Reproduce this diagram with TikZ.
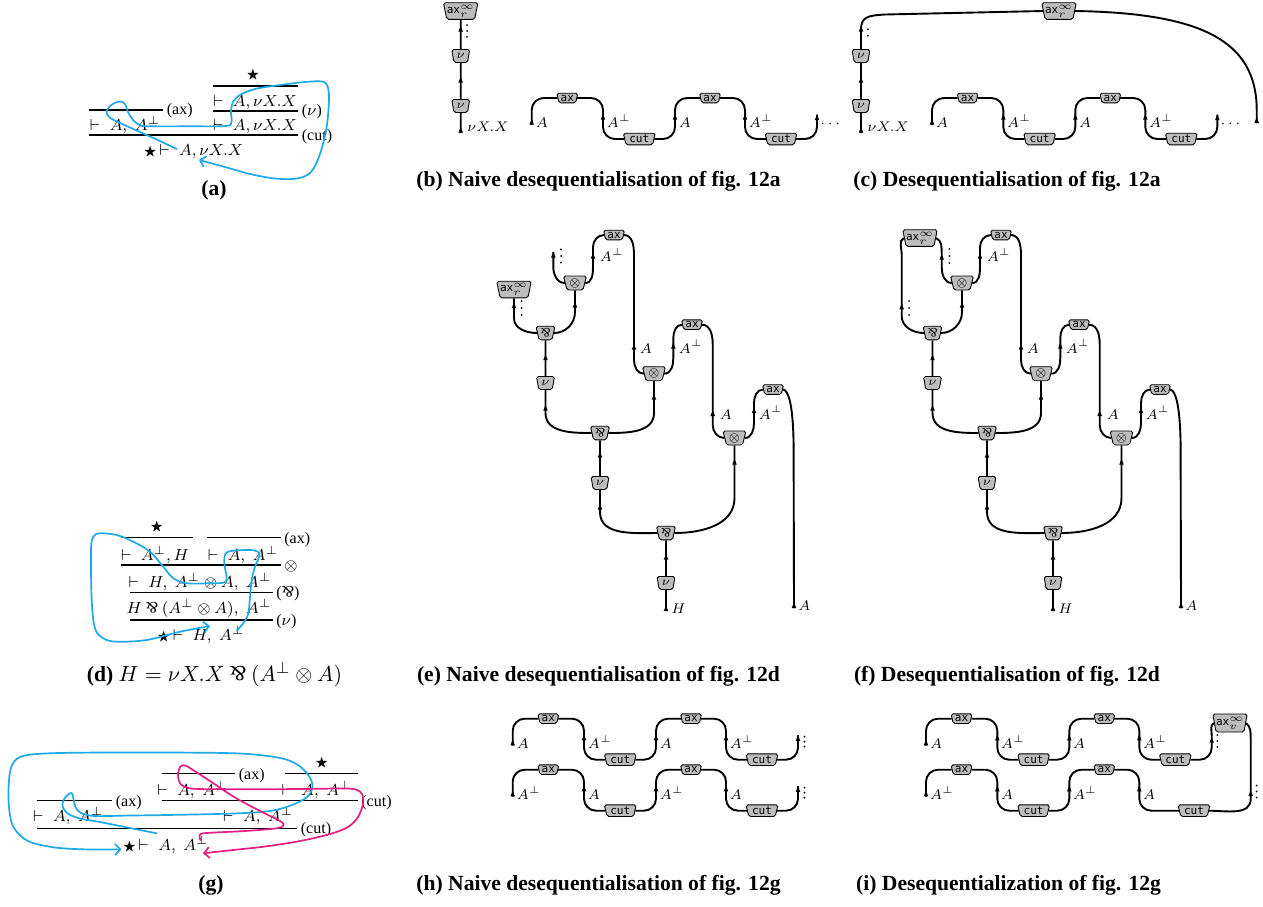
\documentclass[tikz,border=0pt]{standalone}
\usepackage{fontspec}
\usepackage{amsmath,amssymb}
\usepackage{graphicx}
\setmainfont{Liberation Serif}
\newfontfamily\gatefam{DejaVu Sans Mono}
\usetikzlibrary{shapes.geometric,arrows.meta}
\definecolor{gatefill}{gray}{0.74}
\definecolor{tracecyan}{RGB}{30,170,230}
\definecolor{tracepink}{RGB}{228,30,130}
\newcommand\parrsym{\mathbin{\rotatebox[origin=c]{180}{$\&$}}}
\newcommand\stR{{\fontsize{6.5}{6.5}\selectfont$\bigstar$}}
\newcommand\gatef{\fontsize{5.5}{6}\selectfont\gatefam}
\newcommand\gatem{\fontsize{6.5}{7}\selectfont}
\newcommand\pff{\fontsize{8}{9}\selectfont}
\newcommand\lblf{\fontsize{7.2}{8}\selectfont}
\newcommand\capf{\fontsize{10.8}{12}\selectfont\bfseries}
\newcommand\tipat[1]{\fill[shift={#1}] (-2.3,2.7) -- (0,-3) -- (2.3,2.7) -- cycle;}
\newcommand\dotsat[2]{\foreach \k in {-1,0,1}{\fill[shift={#1}] (0,\k*#2) circle (0.5pt);}}
\tikzset{
  gate/.style={trapezium, trapezium stretches=true, shape border rotate=180,
    trapezium left angle=75, trapezium right angle=75, draw=black, fill=gatefill,
    line width=0.45pt, rounded corners=0.9pt, inner sep=0pt},
  axg/.style={gate, minimum width=10.5pt, minimum height=4.8pt, font=\gatef},
  cutg/.style={gate, minimum width=16pt, minimum height=5.8pt, font=\gatef},
  nug/.style={gate, minimum width=9pt, minimum height=6.5pt, font=\gatem},
  otg/.style={gate, minimum width=11.5pt, minimum height=7pt, font=\gatem},
  parg/.style={gate, minimum width=9.5pt, minimum height=6.8pt, font=\gatem},
  axrg/.style={gate, minimum width=16pt, minimum height=8.3pt, font=\gatef},
  wire/.style={line width=0.95pt},
  rl/.style={line width=0.55pt},
  pf/.style={inner sep=0pt, anchor=base, font=\pff},
  pfl/.style={inner sep=0pt, anchor=base west, font=\pff},
  lbl/.style={inner sep=0pt, anchor=base west, font=\lblf},
  captxt/.style={inner sep=0pt, anchor=base, font=\capf},
  trace/.style={draw=#1, line width=0.85pt, line cap=round, line join=round,
    -{Straight Barb[length=2.6pt,width=5.5pt]}},
}
% chain of ax / cut gates (local coordinates of panel b)
\newcommand\chainbody[5]{%
  \node[axg] (ax1) at (567.3,98) {ax};
  \node[cutg] (cut1) at (639.3,139) {cut};
  \node[axg] (ax2) at (710,98) {ax};
  \node[cutg] (cut2) at (#5,139) {cut};
  \coordinate (s0) at (531.7,125);
  \draw[wire,rounded corners=6pt] (s0) |- (ax1.west);
  \draw[wire,rounded corners=6pt] (ax1.east) -| (603,139) -- (cut1.west);
  \draw[wire,rounded corners=6pt] (cut1.east) -| (675,98) -- (ax2.west);
  \draw[wire,rounded corners=6pt] (ax2.east) -| (745,139) -- (cut2.west);
  \tipat{(531.7,122)}\tipat{(603,117)}\tipat{(675,117)}\tipat{(745,117)}
  \node[lbl] at (535.5,127.5) {#1};
  \node[lbl] at (606.5,127.5) {#2};
  \node[lbl] at (678.5,127.5) {#3};
  \node[lbl] at (748.5,127.5) {#4};
}
% column of nu gates (local coordinates of panel b)
\newcommand\colbody{%
  \node[nug] (nu1) at (460.7,56) {$\nu$};
  \node[nug] (nu2) at (460.7,106) {$\nu$};
  \coordinate (vend) at (460.7,133);
  \draw[wire] (vend) -- (nu2);
  \draw[wire] (nu2) -- (nu1);
  \tipat{(460.7,130)}\tipat{(460.7,80)}\tipat{(460.7,29)}
  \node[lbl] at (467,131.5) {$\nu X.X$};
}
% common part of the nets e and f (local coordinates of panel e)
\newcommand\netbody{%
  \node[axg] (ax1) at (614,235) {ax};
  \node[otg] (otA) at (575,283) {$\otimes$};
  \node[parg] (parA) at (545.5,333) {$\parrsym$};
  \node[nug] (nuA) at (545.5,383) {$\nu$};
  \node[axg] (ax2) at (692,324.7) {ax};
  \node[otg] (otB) at (654,373.7) {$\otimes$};
  \node[parg] (parB) at (600,433) {$\parrsym$};
  \node[nug] (nuB) at (600,483) {$\nu$};
  \node[axg] (ax3) at (773,389.5) {ax};
  \node[otg] (otC) at (734.5,438) {$\otimes$};
  \node[parg] (parC) at (666,533) {$\parrsym$};
  \node[nug] (nuC) at (666,583) {$\nu$};
  \coordinate (Hend) at (666,611);
  \coordinate (Aend) at (794,608);
  \draw[wire] (otA.east) to[out=0,in=-90] (593,267) -- (593,247) to[out=90,in=180] (ax1.west);
  \draw[wire] (ax1.east) to[out=0,in=90] (634,255) -- (634,360) to[out=-90,in=180] (otB.west);
  \draw[wire] (otB.east) to[out=0,in=-90] (673.3,358) -- (673.3,338) to[out=90,in=180] (ax2.west);
  \draw[wire] (ax2.east) to[out=0,in=90] (712.7,344) -- (712.7,425) to[out=-90,in=180] (otC.west);
  \draw[wire] (otC.east) to[out=0,in=-90] (754,423) -- (754,403) to[out=90,in=180] (ax3.west);
  \draw[wire] (ax3.east) .. controls (788,390) and (793,402) .. (793.6,445) -- (Aend);
  \draw[wire] (otA.south) -- (575,312) to[out=-90,in=0] (parA.east);
  \draw[wire] (parA) -- (nuA);
  \draw[wire] (nuA.south) -- (545.5,413) to[out=-90,in=180] (parB.west);
  \draw[wire] (otB.south) -- (654,413) to[out=-90,in=0] (parB.east);
  \draw[wire] (parB) -- (nuB);
  \draw[wire] (nuB.south) -- (600,512) to[out=-90,in=180] (parC.west);
  \draw[wire] (otC.south) -- (734.5,498) to[out=-90,in=0] (parC.east);
  \draw[wire] (parC) -- (nuC);
  \draw[wire] (nuC) -- (Hend);
  \tipat{(593,256)}\tipat{(634,347)}\tipat{(673.3,346)}\tipat{(712.7,413.3)}
  \tipat{(754,410.5)}\tipat{(794,605.3)}\tipat{(575,305)}\tipat{(545.5,357.5)}
  \tipat{(545.5,408)}\tipat{(654,397)}\tipat{(600,455)}\tipat{(600,507)}
  \tipat{(734.5,462)}\tipat{(666,557)}\tipat{(666,608.3)}
  \node[lbl] at (599.5,261.5) {$A^{\perp}$};
  \node[lbl] at (639.5,353) {$A$};
  \node[lbl] at (678.5,353) {$A^{\perp}$};
  \node[lbl] at (719.5,419) {$A$};
  \node[lbl] at (758.5,419) {$A^{\perp}$};
  \node[lbl] at (671,613) {$H$};
  \node[lbl] at (798,610) {$A$};
}
\begin{document}
\begin{tikzpicture}[x=0.5pt,y=-0.5pt]
\useasboundingbox (0,0) rectangle (1263,906);
\fill[white] (0,0) rectangle (1263,906);

%% ---------------- (a)
\node at (253,75) {\stR};
\draw[rl] (213,86) -- (298,86);
\node[pf] at (255,106) {$\vdash\; A,\nu X.X$};
\draw[rl] (89,110) -- (163,110);
\node[pfl] at (166.5,114.5) {(ax)};
\draw[rl] (213,111) -- (298,111);
\node[pfl] at (301.5,115.5) {($\nu$)};
\node[pf] at (125,130) {$\vdash\; A,\; A^{\perp}$};
\node[pf] at (255,130) {$\vdash\; A,\nu X.X$};
\draw[rl] (89,135) -- (298,135);
\node[pfl] at (301.5,140) {(cut)};
\node[pf] at (193.5,155) {\stR\,$\vdash\; A,\nu X.X$};
\draw[trace=tracecyan] plot[smooth,tension=0.55] coordinates {
 (176.7,149) (160,141) (140,132) (120,123) (109,117) (106.7,111) (112,104.5)
 (120,101.5) (125,104) (128.5,113) (134,121) (141,125.5) (152,126.3) (190,126.3)
 (226,126) (231.5,122) (231,112) (233,102) (240,95) (255,89) (280,85) (305,82)
 (322,81.5) (327.5,86) (329,100) (326.5,128) (320,154) (311,172) (297,178.5)
 (275,178.5) (250,174) (225,167) (199,160)};
\node[captxt] at (214,195) {(a)};

%% ---------------- (b)
\begin{scope}[name prefix=b-]
  \colbody
  \node[axrg] (axr) at (460.7,11) {ax$^{\infty}_{r}$};
  \draw[wire] (nu1) -- (axr);
  \dotsat{(467,31)}{5.8}
  \chainbody{$A$}{$A^{\perp}$}{$A$}{$A^{\perp}$}{781}
  \draw[wire,rounded corners=6pt] (cut2.east) -| (817,114.5);
  \tipat{(817,117.5)}
  \node[lbl] at (820,127.5) {$\cdots$};
\end{scope}
\node[captxt] at (598.5,186) {(b) Naive desequentialisation of fig. 12a};

%% ---------------- (c)
\begin{scope}[shift={(400.3,0)},name prefix=c-]
  \colbody
  \node[axrg,minimum width=17pt] (axr) at (658.7,11) {ax$^{\infty}_{r}$};
  \draw[wire] (nu1) -- (460.7,30) .. controls (460.7,17) and (467,15.5) .. (485,14.5) -- (axr.west);
  \coordinate (rend) at (856.4,123);
  \draw[wire] (axr.east) .. controls (799.7,13) and (856.4,40) .. (856.4,110) -- (rend);
  \tipat{(856.4,120.3)}
  \fill (467.5,29.3) circle (0.5pt);
  \fill (467.5,35.8) circle (0.5pt);
  \chainbody{$A$}{$A^{\perp}$}{$A$}{$A^{\perp}$}{781}
  \draw[wire,rounded corners=6pt] (cut2.east) -| (817,114.5);
  \tipat{(817,117.5)}
  \node[lbl] at (820,127.5) {$\cdots$};
\end{scope}
\node[captxt] at (1007,186) {(c) Desequentialisation of fig. 12a};

%% ---------------- (d)
\node at (156.7,527.5) {\stR};
\draw[rl] (120.7,537.7) -- (192.7,537.7);
\draw[rl] (207.3,537.7) -- (280.7,537.7);
\node[pfl] at (284,543.5) {(ax)};
\node[pf] at (155,560) {$\vdash\; A^{\perp}, H$};
\node[pf] at (243,560) {$\vdash\; A,\; A^{\perp}$};
\draw[rl] (120.7,565) -- (280.7,565);
\node[pfl] at (284,570.5) {$\otimes$};
\node[pf] at (200,587) {$\vdash\; H,\; A^{\perp}\otimes A,\; A^{\perp}$};
\draw[rl] (130,592.7) -- (272.7,592.7);
\node[pfl] at (276,597) {($\parrsym$)};
\node[pf] at (199,613) {$H\parrsym(A^{\perp}\otimes A),\; A^{\perp}$};
\draw[rl] (130,620) -- (272.7,620);
\node[pfl] at (276,625.5) {($\nu$)};
\node[pf] at (201,640) {\stR\,$\vdash\; H,\; A^{\perp}$};
\draw[trace=tracecyan] plot[smooth,tension=0.55] coordinates {
 (236.7,630.7) (243.3,623.3) (248.3,613.3) (250,596.7) (251.7,580) (255,566.7)
 (259.5,556) (257.5,551.5) (250,550) (233.3,550.7) (225.7,553.3) (224.3,563.3)
 (226.7,578.3) (223.3,582.7) (206.7,583.3) (186.7,583.3) (173.3,578.3)
 (163.3,566.7) (150,551.7) (133.3,541.7) (116.7,535) (100,533.3) (93.3,536.7)
 (91,550) (91.7,600) (95,628.3) (103.3,638.3) (116.7,641.7) (146.7,640)
 (180,631.7) (210,626)};
\node[captxt] at (214.5,681) {(d) \mdseries$H = \nu X.X\parrsym(A^{\perp}\otimes A)$};

%% ---------------- (e)
\begin{scope}[name prefix=e-]
  \netbody
  \node[axrg,minimum width=14pt] (axr) at (514,289.5) {ax$^{\infty}_{r}$};
  \draw[wire] (parA.west) to[out=180,in=-90] (514,318) -- (axr);
  \coordinate (fe) at (553.3,252);
  \draw[wire] (otA.west) to[out=180,in=-90] (553.3,267) -- (fe);
  \tipat{(514,305.5)}\tipat{(553.3,255)}
  \dotsat{(521.7,308)}{7}
  \dotsat{(561,256)}{6.7}
\end{scope}
\node[captxt] at (598.5,681) {(e) Naive desequentialisation of fig. 12d};

%% ---------------- (f)
\begin{scope}[shift={(387,0)},name prefix=f-]
  \netbody
  \node[axrg,minimum width=16.5pt] (axr) at (533,238) {ax$^{\infty}_{r}$};
  \draw[wire] (parA.west) to[out=180,in=-90] (514.7,316) -- (514.7,254) to[out=90,in=205] (axr.west);
  \draw[wire] (axr.east) to[out=-25,in=90] (554.7,254) -- (554.7,267) to[out=-90,in=180] (otA.west);
  \tipat{(514.7,306.7)}\tipat{(554.7,257)}
  \dotsat{(522,308)}{7}
  \dotsat{(562.3,256)}{7}
\end{scope}
\node[captxt] at (1007,681) {(f) Desequentialisation of fig. 12d};

%% ---------------- (g)
\node at (321.7,763.7) {\stR};
\draw[rl] (161.7,773.3) -- (235,773.3);
\node[pfl] at (238.5,779) {(ax)};
\draw[rl] (285,773.3) -- (358.3,773.3);
\node[pf] at (192.5,795) {$\vdash\; A,\; A^{\perp}$};
\node[pf] at (316.7,795) {$\vdash\; A,\; A^{\perp}$};
\draw[rl] (37.3,800.7) -- (111.7,800.7);
\node[pfl] at (115.5,806) {(ax)};
\draw[rl] (161.7,800.7) -- (358.3,800.7);
\node[pfl] at (361,806) {(cut)};
\node[pf] at (68.3,821.5) {$\vdash\; A,\; A^{\perp}$};
\node[pf] at (258.3,821.5) {$\vdash\; A,\; A^{\perp}$};
\draw[rl] (37.3,828.3) -- (296.7,828.3);
\node[pfl] at (300.5,833) {(cut)};
\node[pf] at (165.8,850) {\stR\,$\vdash\; A,\; A^{\perp}$};
\draw[trace=tracecyan] plot[smooth,tension=0.55] coordinates {
 (156.7,833.3) (130,828) (100,822) (80,818.5) (67,813) (62.5,805) (65.5,797)
 (71.5,793) (73.5,799) (75.5,807) (81,813) (95,816) (130,815.5) (166.7,815)
 (233,813.5) (270,811) (292,805) (307,797) (312.5,787) (309,776) (298,765)
 (280,758) (240,753.5) (170,752.5) (100,752.5) (45,753.5) (20,757) (11,768)
 (8.5,790) (9.5,812) (14,828) (28,841) (55,847.5) (90,849.5) (121.5,849.3)};
\draw[trace=tracepink] plot[smooth,tension=0.55] coordinates {
 (200.5,840) (200.5,834) (215,832.5) (245,831) (275,828.5) (283.5,825.5)
 (280,821) (262,812) (235,797.5) (210,781) (193,770) (185.5,765.5) (180.5,766.5)
 (178,775) (180.5,784) (188,788) (200,789) (233,789.3) (300,789) (343,788.5)
 (356,789.5) (362,794) (363,804) (358,817) (348,827) (330,834) (300,841)
 (265,846.5) (233,850) (203,853.3)};
\node[captxt] at (211,890) {(g)};

%% ---------------- (h)
\begin{scope}[shift={(-19,620.7)},name prefix=ht-]
  \chainbody{$A$}{$A^{\perp}$}{$A$}{$A^{\perp}$}{781}
  \draw[wire,rounded corners=6pt] (cut2.east) -| (817,114.5);
  \tipat{(817,117.5)}
  \dotsat{(823.5,121)}{5}
\end{scope}
\begin{scope}[shift={(-19,671.7)},name prefix=hb-]
  \chainbody{$A^{\perp}$}{$A$}{$A^{\perp}$}{$A$}{781}
  \draw[wire,rounded corners=6pt] (cut2.east) -| (817,114.5);
  \tipat{(817,117.5)}
  \dotsat{(823.5,121)}{5}
\end{scope}
\node[captxt] at (598.5,890) {(h) Naive desequentialisation of fig. 12g};

%% ---------------- (i)
\begin{scope}[shift={(394.3,620.7)},name prefix=it-]
  \chainbody{$A$}{$A^{\perp}$}{$A$}{$A^{\perp}$}{781}
  \node[axrg,minimum width=16.5pt,minimum height=9pt] (axv) at (835.7,102.3) {ax$^{\infty}_{v}$};
  \draw[wire,rounded corners=6pt] (cut2.east) -| (817.4,114);
  \draw[wire] (817.4,114.5) to[out=90,in=210] (axv.west);
  \tipat{(817.4,119.3)}
  \dotsat{(823,120.3)}{6}
\end{scope}
\begin{scope}[shift={(394.3,671.7)},name prefix=ib-]
  \chainbody{$A^{\perp}$}{$A$}{$A^{\perp}$}{$A$}{799.7}
\end{scope}
\draw[wire] (it-axv.east) to[out=-40,in=90] (1250.7,738) -- (1250.7,799) to[out=-90,in=0] (ib-cut2.east);
\tipat{(1250.7,793.3)}
\dotsat{(1256.7,791.5)}{6}
\node[captxt] at (1008.5,890) {(i) Desequentialization of fig. 12g};
\end{tikzpicture}
\end{document}
